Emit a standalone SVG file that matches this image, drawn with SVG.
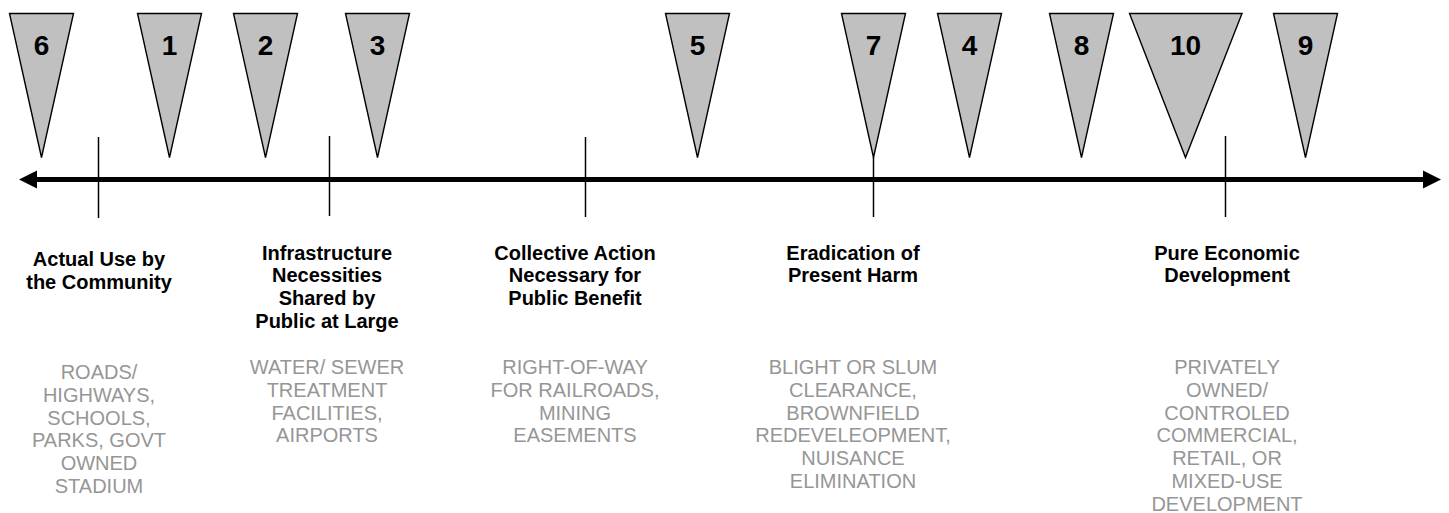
<svg xmlns="http://www.w3.org/2000/svg" width="1449" height="513" viewBox="0 0 1449 513">
  <style>
    .flag { fill: #c0c0c0; stroke: #000; stroke-width: 1.4; stroke-linejoin: miter; }
    .num { font-family: "Liberation Sans", Arial, sans-serif; font-weight: bold; font-size: 28px; fill: #000; text-anchor: middle; }
    .tick { stroke: #000; stroke-width: 1.5; fill: none; }
    .axis { stroke: #000; stroke-width: 5; fill: none; }
    .head { fill: #000; }
    .cat { font-family: "Liberation Sans", Arial, sans-serif; font-weight: bold; font-size: 20px; fill: #000; text-anchor: middle; }
    .ex { font-family: "Liberation Sans", Arial, sans-serif; font-size: 20px; fill: #969696; text-anchor: middle; }
  </style>

  <rect x="0" y="0" width="1449" height="513" fill="#fff"/>

  <!-- axis with arrowheads at both ends, plus category ticks -->
  <g id="connectors">
    <line class="axis" x1="34" y1="179.5" x2="1426" y2="179.5"/>
    <polygon class="head" points="19,179.5 37,170.5 37,188.5"/>
    <polygon class="head" points="1441,179.5 1423,170.5 1423,188.5"/>
    <line class="tick" x1="98.5" y1="137" x2="98.5" y2="218"/>
    <line class="tick" x1="329.5" y1="136" x2="329.5" y2="216"/>
    <line class="tick" x1="585.5" y1="137" x2="585.5" y2="217"/>
    <line class="tick" x1="873.5" y1="157" x2="873.5" y2="217"/>
    <line class="tick" x1="1225.5" y1="136" x2="1225.5" y2="217"/>
  </g>

  <!-- numbered markers -->
  <g id="marker-6">
    <polygon class="flag" points="9.5,13.5 73.5,13.5 41.5,157.5"/>
    <text class="num" x="41.5" y="55">6</text>
  </g>
  <g id="marker-1">
    <polygon class="flag" points="137.5,13.5 201.5,13.5 169.5,157.5"/>
    <text class="num" x="169.5" y="55">1</text>
  </g>
  <g id="marker-2">
    <polygon class="flag" points="233.5,13.5 297.5,13.5 265.5,157.5"/>
    <text class="num" x="265.5" y="55">2</text>
  </g>
  <g id="marker-3">
    <polygon class="flag" points="345.5,13.5 409.5,13.5 377.5,157.5"/>
    <text class="num" x="377.5" y="55">3</text>
  </g>
  <g id="marker-5">
    <polygon class="flag" points="665.5,13.5 729.5,13.5 697.5,157.5"/>
    <text class="num" x="697.5" y="55">5</text>
  </g>
  <g id="marker-7">
    <polygon class="flag" points="841.5,13.5 905.5,13.5 873.5,157.5"/>
    <text class="num" x="873.5" y="55">7</text>
  </g>
  <g id="marker-4">
    <polygon class="flag" points="937.5,13.5 1001.5,13.5 969.5,157.5"/>
    <text class="num" x="969.5" y="55">4</text>
  </g>
  <g id="marker-8">
    <polygon class="flag" points="1049.5,13.5 1113.5,13.5 1081.5,157.5"/>
    <text class="num" x="1081.5" y="55">8</text>
  </g>
  <g id="marker-10">
    <polygon class="flag" points="1129.5,13.5 1242,13.5 1185.5,157.5"/>
    <text class="num" x="1185.5" y="55">10</text>
  </g>
  <g id="marker-9">
    <polygon class="flag" points="1273.5,13.5 1337.5,13.5 1305.5,157.5"/>
    <text class="num" x="1305.5" y="55">9</text>
  </g>

  <!-- category headings with examples -->
  <g id="cat-actual-use">
    <text class="cat" x="99" y="266">Actual Use by</text>
    <text class="cat" x="99" y="288.5">the Community</text>
    <text class="ex" x="99" y="379">ROADS/</text>
    <text class="ex" x="99" y="401.8">HIGHWAYS,</text>
    <text class="ex" x="99" y="424.6">SCHOOLS,</text>
    <text class="ex" x="99" y="447.4">PARKS, GOVT</text>
    <text class="ex" x="99" y="470.2">OWNED</text>
    <text class="ex" x="99" y="493">STADIUM</text>
  </g>

  <g id="cat-infrastructure">
    <text class="cat" x="327" y="259.5">Infrastructure</text>
    <text class="cat" x="327" y="282.2">Necessities</text>
    <text class="cat" x="327" y="304.9">Shared by</text>
    <text class="cat" x="327" y="327.6">Public at Large</text>
    <text class="ex" x="327" y="374">WATER/ SEWER</text>
    <text class="ex" x="327" y="396.8">TREATMENT</text>
    <text class="ex" x="327" y="419.6">FACILITIES,</text>
    <text class="ex" x="327" y="442.4">AIRPORTS</text>
  </g>

  <g id="cat-collective-action">
    <text class="cat" x="575" y="259.5">Collective Action</text>
    <text class="cat" x="575" y="282.2">Necessary for</text>
    <text class="cat" x="575" y="304.9">Public Benefit</text>
    <text class="ex" x="575" y="374">RIGHT-OF-WAY</text>
    <text class="ex" x="575" y="396.8">FOR RAILROADS,</text>
    <text class="ex" x="575" y="419.6">MINING</text>
    <text class="ex" x="575" y="442.4">EASEMENTS</text>
  </g>

  <g id="cat-eradication">
    <text class="cat" x="853" y="259.5">Eradication of</text>
    <text class="cat" x="853" y="282.2">Present Harm</text>
    <text class="ex" x="853" y="374">BLIGHT OR SLUM</text>
    <text class="ex" x="853" y="396.8">CLEARANCE,</text>
    <text class="ex" x="853" y="419.6">BROWNFIELD</text>
    <text class="ex" x="853" y="442.4">REDEVELEOPMENT,</text>
    <text class="ex" x="853" y="465.2">NUISANCE</text>
    <text class="ex" x="853" y="488">ELIMINATION</text>
  </g>

  <g id="cat-economic-development">
    <text class="cat" x="1227" y="259.5">Pure Economic</text>
    <text class="cat" x="1227" y="282.2">Development</text>
    <text class="ex" x="1227" y="374">PRIVATELY</text>
    <text class="ex" x="1227" y="396.8">OWNED/</text>
    <text class="ex" x="1227" y="419.6">CONTROLED</text>
    <text class="ex" x="1227" y="442.4">COMMERCIAL,</text>
    <text class="ex" x="1227" y="465.2">RETAIL, OR</text>
    <text class="ex" x="1227" y="488">MIXED-USE</text>
    <text class="ex" x="1227" y="510.8">DEVELOPMENT</text>
  </g>
</svg>
